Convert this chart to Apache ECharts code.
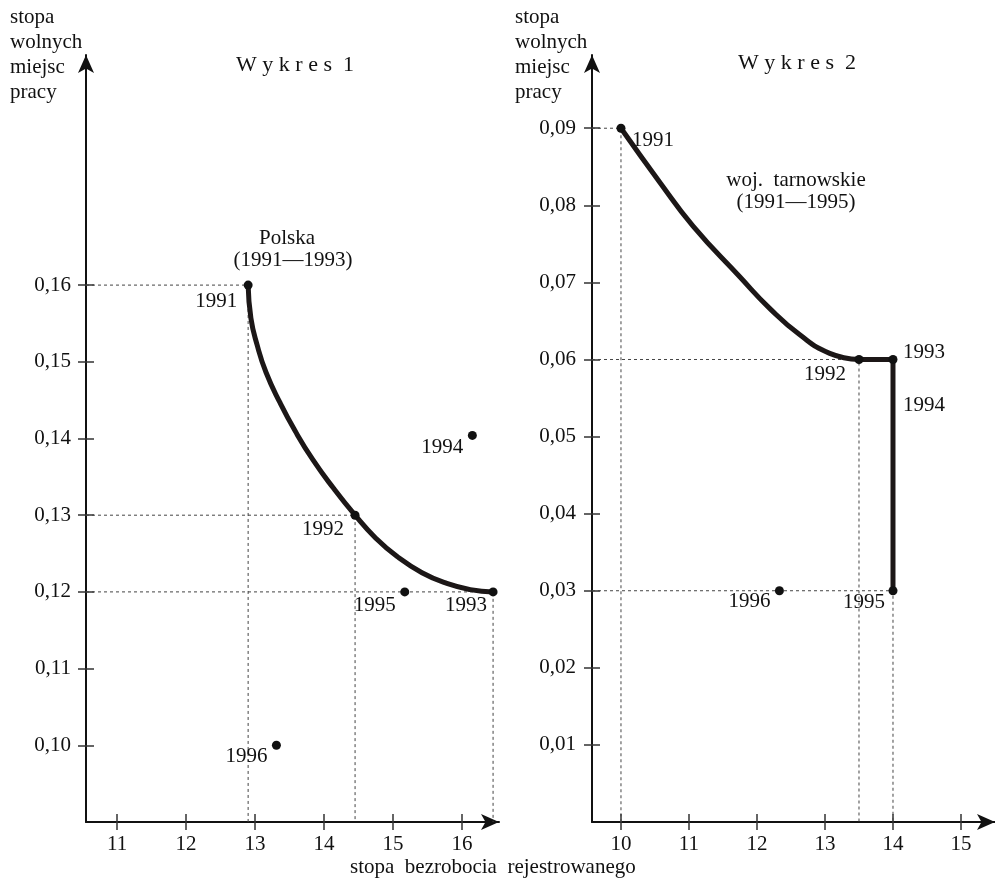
<!DOCTYPE html>
<html>
<head>
<meta charset="utf-8">
<script src="https://cdn.jsdelivr.net/npm/echarts@6/dist/echarts.min.js"></script>
<style>
  html, body { margin: 0; padding: 0; background: #fff; }
  #chart { width: 995px; height: 880px; }
</style>
</head>
<body>
<div id="chart"></div>
<script>
// ---------- Data: Wykres 1 (Polska) ----------
const YEARS1 = ['1991', '1992', '1993', '1994', '1995', '1996'];
const UNEMP1 = [12.9, 14.45, 16.45, 16.15, 15.17, 13.31];
const VAC1 = [0.16, 0.13, 0.12, 0.1404, 0.12, 0.10];
const GUIDE_IDX1 = [0, 1, 2];
const CURVE1_X = [12.9, 12.94, 13.03, 13.16, 13.36, 13.58, 13.84, 14.13, 14.45, 14.74, 15.06, 15.42, 15.78, 16.12, 16.45];
const CURVE1_Y = [0.16, 0.1557, 0.1522, 0.1486, 0.1447, 0.1410, 0.1372, 0.1336, 0.13, 0.1271, 0.1246, 0.1225, 0.1211, 0.1203, 0.12];
const XTICKS1 = [11, 12, 13, 14, 15, 16];
const YTICKS1 = [0.10, 0.11, 0.12, 0.13, 0.14, 0.15, 0.16];

// ---------- Data: Wykres 2 (woj. tarnowskie) ----------
const YEARS2 = ['1991', '1992', '1993', '1995', '1996'];
const UNEMP2 = [10, 13.5, 14, 14, 12.33];
const VAC2 = [0.09, 0.06, 0.06, 0.03, 0.03];
const GUIDE_IDX2 = [0, 1, 3];
const CURVE2_X = [10, 10.57, 11.06, 11.75, 12.19, 12.63, 13.07, 13.5];
const CURVE2_Y = [0.09, 0.083, 0.0773, 0.0707, 0.0666, 0.0632, 0.0608, 0.06];
const STEP2_X = [13.5, 14, 14];
const STEP2_Y = [0.06, 0.06, 0.03];
const SEG_LABEL2 = { text: '1994', x: 14, y: 0.054 };
const XTICKS2 = [10, 11, 12, 13, 14, 15];
const YTICKS2 = [0.01, 0.02, 0.03, 0.04, 0.05, 0.06, 0.07, 0.08, 0.09];

// ---------- Axis ranges ----------
const X1 = [10.55, 16.536], Y1 = [0.09, 0.19];
const X2 = [9.574, 15.5], Y2 = [0, 0.0995];

// ---------- Styles ----------
const FONT = 'Liberation Serif';
const INK = '#1c1717';
const LABEL_OFF1 = [[-32, 16], [-32, 14], [-27, 14], [-30, 12], [-30, 14], [-30, 11]];
const LABEL_OFF2 = [[32, 12], [-34, 15], [31, -7], [-29, 12], [-30, 11]];

const chart = echarts.init(document.getElementById('chart'), null, { renderer: 'canvas' });

const zip = (xs, ys) => xs.map((x, i) => [x, ys[i]]);
const fmtY = v => v.toFixed(2).replace('.', ',');
const fmtX = v => String(Math.round(v));

function axisPair(dim, gridIndex, range, ticks, fmt, margin) {
  const common = {
    type: 'value', gridIndex, min: range[0], max: range[1],
    position: dim === 'x' ? 'bottom' : 'left',
    splitLine: { show: false }
  };
  const main = Object.assign({}, common, {
    axisLine: {
      show: true, onZero: false,
      symbol: ['none', 'arrow'], symbolSize: [12, 18], symbolOffset: [0, 0],
      lineStyle: { color: '#111', width: 2 }
    },
    axisTick: { show: true, inside: false, length: 8, customValues: ticks, lineStyle: { color: '#333', width: 1.5 } },
    axisLabel: { show: true, customValues: ticks, formatter: fmt, margin, color: '#111', fontFamily: FONT, fontSize: 21 }
  });
  const sec = Object.assign({}, common, {
    axisLine: { show: false, onZero: false },
    axisTick: { show: true, inside: true, length: 8, customValues: ticks, lineStyle: { color: '#333', width: 1.5 } },
    axisLabel: { show: false }
  });
  return [main, sec];
}

function guideSeries(xi, yi, xs, ys, idxs, xmin, ymin) {
  return idxs.map(i => ({
    type: 'line', xAxisIndex: xi, yAxisIndex: yi, silent: true, symbol: 'none', z: 1,
    data: [[xmin, ys[i]], [xs[i], ys[i]], [xs[i], ymin]],
    lineStyle: { color: '#444', width: 1, type: [3, 3] }
  }));
}

const LABEL_STYLE = {
  color: '#111', fontFamily: FONT, fontSize: 21,
  textBorderWidth: 0, textShadowBlur: 0, opacity: 1
};

function dotSeries(xi, yi, xs, ys, years, offs) {
  return {
    type: 'scatter', xAxisIndex: xi, yAxisIndex: yi, symbolSize: 9, z: 5,
    itemStyle: { color: '#111', opacity: 1 },
    data: xs.map((x, i) => ({ value: [x, ys[i]], label: { offset: offs[i] } })),
    label: Object.assign({ show: true, position: 'inside', formatter: p => years[p.dataIndex] }, LABEL_STYLE)
  };
}

const [x1a, x1b] = axisPair('x', 0, X1, XTICKS1, fmtX, 12);
const [y1a, y1b] = axisPair('y', 0, Y1, YTICKS1, fmtY, 15);
const [x2a, x2b] = axisPair('x', 1, X2, XTICKS2, fmtX, 12);
const [y2a, y2b] = axisPair('y', 1, Y2, YTICKS2, fmtY, 16);

const series = [].concat(
  guideSeries(0, 0, UNEMP1, VAC1, GUIDE_IDX1, X1[0], Y1[0]),
  guideSeries(2, 2, UNEMP2, VAC2, GUIDE_IDX2, X2[0], Y2[0]),
  [
    {
      type: 'line', xAxisIndex: 0, yAxisIndex: 0, symbol: 'none', smooth: 0.5, z: 3,
      data: zip(CURVE1_X, CURVE1_Y), lineStyle: { color: INK, width: 5, cap: 'round' }
    },
    {
      type: 'line', xAxisIndex: 2, yAxisIndex: 2, symbol: 'none', smooth: 0.5, z: 3,
      data: zip(CURVE2_X, CURVE2_Y), lineStyle: { color: INK, width: 5, cap: 'round' }
    },
    {
      type: 'line', xAxisIndex: 2, yAxisIndex: 2, symbol: 'none', z: 3,
      data: zip(STEP2_X, STEP2_Y), lineStyle: { color: INK, width: 5, join: 'miter' }
    },
    dotSeries(0, 0, UNEMP1, VAC1, YEARS1, LABEL_OFF1),
    dotSeries(2, 2, UNEMP2, VAC2, YEARS2, LABEL_OFF2),
    {
      type: 'scatter', xAxisIndex: 2, yAxisIndex: 2, symbolSize: 1, z: 5,
      itemStyle: { color: 'rgba(0,0,0,0)' },
      data: [[SEG_LABEL2.x, SEG_LABEL2.y]],
      label: Object.assign({ show: true, position: 'inside', offset: [31, 0], formatter: SEG_LABEL2.text }, LABEL_STYLE)
    }
  ]
);

const txt = (x, y, text, opts) => ({
  type: 'text', x, y, silent: true,
  style: Object.assign({ text, fill: '#111', font: '21px "' + FONT + '"', align: 'center', verticalAlign: 'middle' }, opts || {})
});

chart.setOption({
  backgroundColor: '#fff',
  animation: false,
  grid: [
    { left: 86, top: 55, width: 413, height: 767 },
    { left: 592, top: 55, width: 403, height: 767 }
  ],
  xAxis: [x1a, x1b, x2a, x2b],
  yAxis: [y1a, y1b, y2a, y2b],
  series,
  graphic: [
    txt(10, 5, 'stopa\nwolnych\nmiejsc\npracy', { align: 'left', verticalAlign: 'top', lineHeight: 25 }),
    txt(515, 5, 'stopa\nwolnych\nmiejsc\npracy', { align: 'left', verticalAlign: 'top', lineHeight: 25 }),
    txt(295, 65, 'W y k r e s  1', { font: '22px "' + FONT + '"' }),
    txt(797, 63, 'W y k r e s  2', { font: '22px "' + FONT + '"' }),
    txt(287, 238, 'Polska'),
    txt(293, 260, '(1991—1993)'),
    txt(796, 180, 'woj.  tarnowskie'),
    txt(796, 202, '(1991—1995)'),
    txt(350, 867, 'stopa  bezrobocia  rejestrowanego', { align: 'left' })
  ]
});
</script>
</body>
</html>
